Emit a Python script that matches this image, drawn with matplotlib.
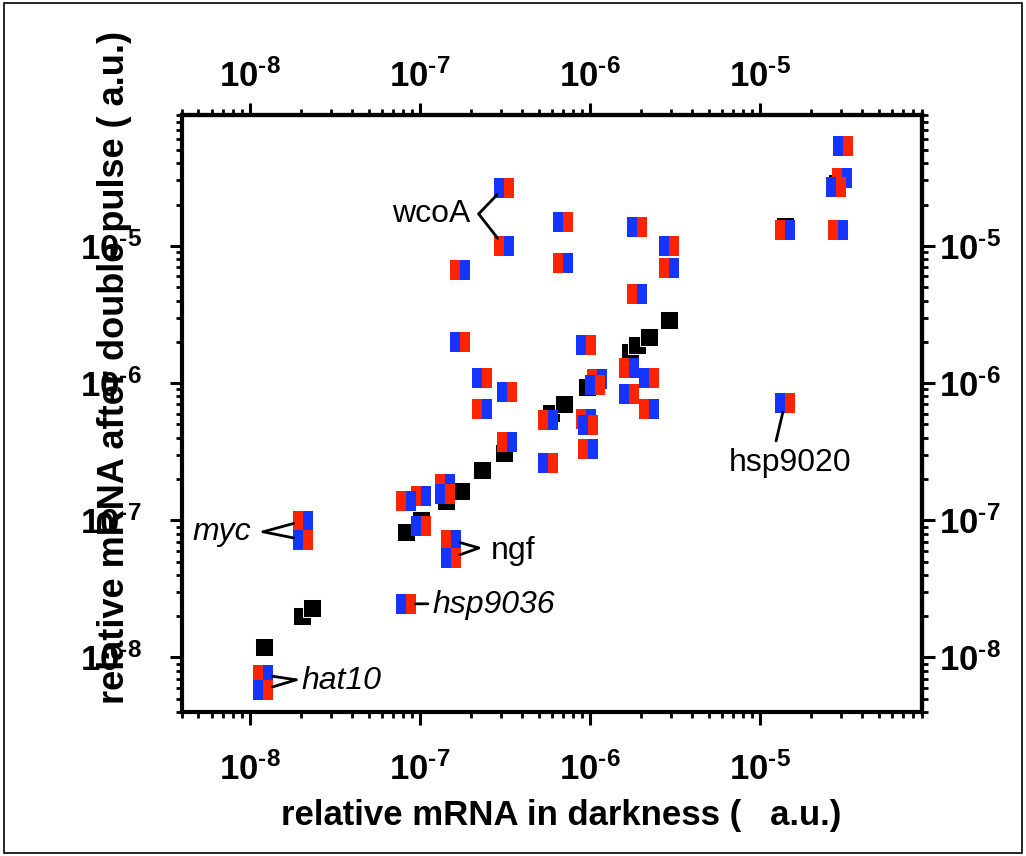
import numpy as np
import matplotlib
matplotlib.use("Agg")
import matplotlib.pyplot as plt
import matplotlib.ticker as ticker
from matplotlib import font_manager
from matplotlib.patches import Rectangle

_names = {f.name for f in font_manager.fontManager.ttflist}
NARROW = "Liberation Sans Narrow" if "Liberation Sans Narrow" in _names else "Liberation Sans"
SANS = "Liberation Sans"

plt.rcParams["mathtext.fontset"] = "custom"
plt.rcParams["mathtext.rm"] = NARROW
plt.rcParams["mathtext.bf"] = NARROW + ":bold"
plt.rcParams["mathtext.it"] = NARROW + ":italic"
plt.rcParams["mathtext.sf"] = NARROW

RED = "#ff2400"
BLUE = "#1434ff"

# black squares (control, y ~ x)
ctrl_x = [1.22e-8, 2.03e-8, 2.33e-8, 8.3e-8, 1.02e-7, 1.43e-7, 1.75e-7, 2.32e-7,
          3.12e-7, 5.89e-7, 7.03e-7, 9.6e-7, 1.72e-6, 1.91e-6, 2.22e-6, 2.94e-6,
          1.41e-5, 2.83e-5]
ctrl_y = [1.19e-8, 2.01e-8, 2.30e-8, 8.2e-8, 1.0e-7, 1.38e-7, 1.64e-7, 2.33e-7,
          3.10e-7, 6.07e-7, 7.05e-7, 9.4e-7, 1.69e-6, 1.90e-6, 2.17e-6, 2.89e-6,
          1.40e-5, 2.88e-5]

# split markers, red half on the left
rb_x = [3.06e-5, 2.90e-5, 1.41e-5, 3.12e-7, 1.72e-7, 6.93e-7, 2.94e-6, 1.91e-6,
        2.32e-7, 3.25e-7, 5.66e-7, 1.11e-6, 9.46e-7, 9.73e-7, 1.71e-6, 2.22e-6,
        8.3e-8, 1.02e-7, 1.41e-7, 2.06e-8, 1.52e-7, 1.20e-8]
rb_y = [3.13e-5, 1.31e-5, 1.31e-5, 1.0e-5, 6.68e-6, 7.52e-6, 6.92e-6, 4.47e-6,
        6.49e-7, 3.73e-7, 5.40e-7, 1.07e-6, 5.48e-7, 3.31e-7, 1.29e-6, 6.49e-7,
        1.38e-7, 1.51e-7, 1.84e-7, 9.9e-8, 7.2e-8, 7.47e-9]

# split markers, blue half on the left
br_x = [3.10e-5, 2.82e-5, 3.12e-7, 6.93e-7, 1.91e-6, 2.94e-6, 1.72e-7, 2.32e-7,
        3.25e-7, 5.66e-7, 9.46e-7, 1.07e-6, 9.73e-7, 1.71e-6, 2.22e-6, 1.41e-5,
        1.41e-7, 1.02e-7, 2.06e-8, 1.52e-7, 8.3e-8, 1.20e-8]
br_y = [5.36e-5, 2.69e-5, 2.65e-5, 1.50e-5, 1.37e-5, 1.0e-5, 2.0e-6, 1.09e-6,
        8.63e-7, 2.62e-7, 1.90e-6, 9.70e-7, 4.96e-7, 8.34e-7, 1.09e-6, 7.18e-7,
        1.56e-7, 9.1e-8, 7.2e-8, 5.3e-8, 2.46e-8, 5.81e-9]

x_ticks = [1e-8, 1e-7, 1e-6, 1e-5]
y_ticks = [1e-8, 1e-7, 1e-6, 1e-5]

HYPHEN = "\u2010"


def pow_label(v, _pos=None):
    e = int(round(np.log10(v)))
    sign = HYPHEN if e < 0 else ""
    return r"$\mathbf{10^{" + sign + str(abs(e)) + r"}}$"


def style_axis(axis, ticks):
    axis.set_major_locator(ticker.FixedLocator(ticks))
    axis.set_minor_locator(ticker.LogLocator(base=10, subs=np.arange(2, 10), numticks=20))
    axis.set_major_formatter(ticker.FuncFormatter(pow_label))
    axis.set_minor_formatter(ticker.NullFormatter())


def bracket(ax, pts, offsets, label, text_off, ha, italic=False, size=23):
    for (px, py), (dx, dy) in zip(pts, offsets):
        ax.annotate("", xy=(px, py), xytext=(dx, dy), textcoords="offset points",
                    arrowprops=dict(arrowstyle="-", lw=2, color="black",
                                    shrinkA=0, shrinkB=7), zorder=4)
    ax.annotate(label, xy=pts[0], xytext=text_off, textcoords="offset points",
                ha=ha, va="center", fontsize=size, family=SANS,
                style="italic" if italic else "normal", zorder=4)


fig = plt.figure(figsize=(10.26, 8.56), dpi=100)
ax = fig.add_axes([0.1774, 0.1682, 0.7212, 0.6974])
ax.set_xscale("log")
ax.set_yscale("log")
ax.set_xlim(4e-9, 9e-5)
ax.set_ylim(4e-9, 9e-5)

ax.plot(ctrl_x, ctrl_y, ls="none", marker="s", ms=13.5, mfc="black",
        mec="white", mew=0.7, zorder=2)
ax.plot(rb_x, rb_y, ls="none", marker="s", ms=14.5, fillstyle="left",
        mfc=RED, mfcalt=BLUE, mec="none", mew=0, zorder=3)
ax.plot(br_x, br_y, ls="none", marker="s", ms=14.5, fillstyle="left",
        mfc=BLUE, mfcalt=RED, mec="none", mew=0, zorder=3)

# gene labels
bracket(ax, [(3.12e-7, 2.65e-5), (3.12e-7, 1.0e-5)], [(-18, -18.7), (-18, 23)],
        "wcoA", (-23.8, -18.7), "right")
bracket(ax, [(2.06e-8, 9.9e-8), (2.06e-8, 7.2e-8)], [(-28.8, -7.9), (-28.8, 5.8)],
        "myc", (-37.4, -7.9), "right", italic=True)
bracket(ax, [(1.52e-7, 7.2e-8), (1.52e-7, 5.3e-8)], [(20.2, -5.8), (20.2, 7.2)],
        "ngf", (28.8, -7.9), "left")
bracket(ax, [(8.3e-8, 2.46e-8)], [(15.8, 0)], "hsp9036", (19.4, -1), "left", italic=True)
bracket(ax, [(1.20e-8, 7.47e-9), (1.20e-8, 5.81e-9)], [(23.8, -3.6), (23.8, 7.2)],
        "hat10", (27.4, -4.3), "left", italic=True)
bracket(ax, [(1.41e-5, 7.18e-7)], [(-6.5, -27.4)], "hsp9020", (3.6, -43.2), "center")

# axes styling
for s in ax.spines.values():
    s.set_linewidth(3)
style_axis(ax.xaxis, x_ticks)
style_axis(ax.yaxis, y_ticks)
ax.tick_params(which="major", direction="out", length=9, width=2.2, labelsize=25,
               top=False, right=False)
ax.tick_params(which="minor", direction="out", length=4.5, width=2, top=False, right=False)
ax.tick_params(axis="x", which="major", pad=20)
ax.tick_params(axis="y", which="major", pad=20)

secx = ax.secondary_xaxis("top")
secx.spines["top"].set_linewidth(3)
style_axis(secx.xaxis, x_ticks)
secx.tick_params(which="major", direction="out", length=9, width=2.2, labelsize=25, pad=6)
secx.tick_params(which="minor", direction="out", length=4.5, width=2)

secy = ax.secondary_yaxis("right")
secy.spines["right"].set_linewidth(3)
style_axis(secy.yaxis, y_ticks)
secy.tick_params(which="major", direction="out", length=9, width=2.2, labelsize=25, pad=3)
secy.tick_params(which="minor", direction="out", length=4.5, width=2)

fig.text(561 / 1026, 1 - 815 / 856, "relative mRNA in darkness (   a.u.)",
         ha="center", va="center", fontsize=25, fontweight="bold", family=NARROW)
fig.text(115 / 1026, 1 - 367 / 856, "relative mRNA after double pulse ( a.u.)",
         ha="center", va="center", rotation=90, fontsize=26, fontweight="bold",
         family=NARROW)

fig.patches.append(Rectangle((0.004, 0.003), 0.992, 0.994, transform=fig.transFigure,
                             fill=False, lw=1.2, ec="black"))

fig.savefig("out.png", dpi=100)
